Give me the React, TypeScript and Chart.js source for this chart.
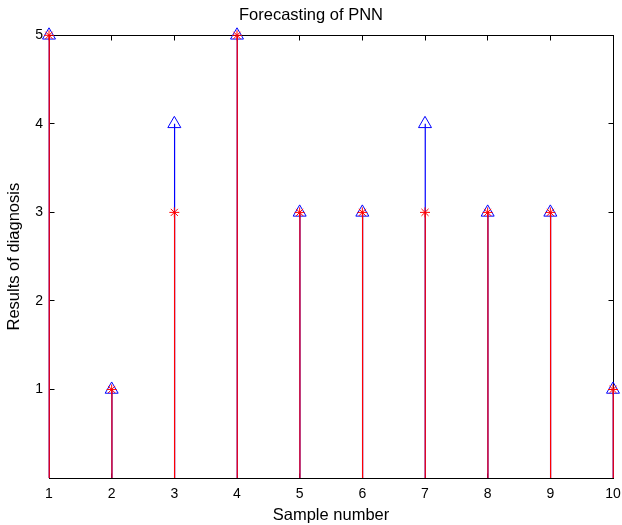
import React, { useEffect, useRef } from 'react';
import { Chart, registerables } from 'chart.js';

Chart.register(...registerables);

const sampleNumbers = [1, 2, 3, 4, 5, 6, 7, 8, 9, 10];
const expectedValues = [5, 1, 4, 5, 3, 3, 4, 3, 3, 1];
const pnnValues = [5, 1, 3, 5, 3, 3, 3, 3, 3, 1];
const xTickValues = [1, 2, 3, 4, 5, 6, 7, 8, 9, 10];
const yTickValues = [0, 1, 2, 3, 4, 5];

const FONT = "'Liberation Sans', Arial, sans-serif";

const stemPlugin = {
  id: 'stems',
  beforeDatasetDraw(chart: any, args: any) {
    const ds = chart.data.datasets[args.index];
    const ctx = chart.ctx;
    const base = chart.scales.y.getPixelForValue(0);
    ctx.save();
    ctx.strokeStyle = ds.borderColor;
    ctx.lineWidth = 1.2;
    args.meta.data.forEach((pt: any) => {
      const x = pt.x + 0.25;
      ctx.beginPath();
      ctx.moveTo(x, base);
      ctx.lineTo(x, pt.y);
      ctx.stroke();
    });
    ctx.restore();
  },
};

const boxPlugin = {
  id: 'box',
  beforeDatasetsDraw(chart: any) {
    const { ctx, chartArea, scales } = chart;
    const l = Math.floor(chartArea.left) + 0.5;
    const r = Math.floor(chartArea.right) + 0.5;
    const t = Math.floor(chartArea.top) + 0.5;
    const b = Math.floor(chartArea.bottom) + 0.5;
    ctx.save();
    ctx.strokeStyle = '#000';
    ctx.lineWidth = 1;
    ctx.strokeRect(l, t, r - l, b - t);
    const len = 5;
    ctx.beginPath();
    xTickValues.forEach((v) => {
      const x = Math.floor(scales.x.getPixelForValue(v)) + 0.5;
      ctx.moveTo(x, b);
      ctx.lineTo(x, b - len);
      ctx.moveTo(x, t);
      ctx.lineTo(x, t + len);
    });
    yTickValues.forEach((v) => {
      const y = Math.floor(scales.y.getPixelForValue(v)) + 0.5;
      ctx.moveTo(l, y);
      ctx.lineTo(l + len, y);
      ctx.moveTo(r, y);
      ctx.lineTo(r - len, y);
    });
    ctx.stroke();
    ctx.restore();
  },
};

export default function App() {
  const canvasRef = useRef<HTMLCanvasElement | null>(null);

  useEffect(() => {
    if (!canvasRef.current) return;
    Chart.defaults.font.family = FONT;
    Chart.defaults.color = '#000';
    const chart = new Chart(canvasRef.current, {
      type: 'line',
      data: {
        datasets: [
          {
            label: 'PNN output',
            data: sampleNumbers.map((x, i) => ({ x, y: pnnValues[i] })),
            showLine: false,
            borderColor: '#ff0000',
            backgroundColor: '#ff0000',
            pointStyle: 'star',
            pointRadius: 5,
            pointBorderWidth: 1,
            pointBorderColor: '#ff0000',
            clip: false as any,
          },
          {
            label: 'Expected',
            data: sampleNumbers.map((x, i) => ({ x, y: expectedValues[i] })),
            showLine: false,
            borderColor: '#0000ff',
            backgroundColor: 'rgba(0,0,0,0)',
            pointStyle: 'triangle',
            pointRadius: 7.5,
            pointBorderWidth: 1,
            pointBorderColor: '#0000ff',
            pointBackgroundColor: 'rgba(0,0,0,0)',
            clip: false as any,
          },
        ],
      },
      options: {
        animation: false,
        responsive: true,
        maintainAspectRatio: false,
        events: [],
        layout: { padding: { left: 0, right: 0, top: 0, bottom: 0 } },
        plugins: {
          legend: { display: false },
          tooltip: { enabled: false },
          title: {
            display: true,
            text: 'Forecasting of PNN',
            color: '#000',
            font: { size: 16.5, weight: 'normal', family: FONT },
            padding: { top: 6, bottom: 9.5 },
          },
        },
        scales: {
          x: {
            type: 'linear',
            min: 1,
            max: 10,
            afterBuildTicks: (s: any) => {
              s.ticks = xTickValues.map((v) => ({ value: v }));
            },
            afterFit: (s: any) => {
              s.height = 47;
              s.paddingRight = 9;
              s.paddingLeft = 0;
            },
            grid: { display: false, drawTicks: false },
            border: { display: false },
            ticks: { color: '#000', font: { size: 14 }, padding: 8, maxRotation: 0 },
            title: {
              display: true,
              text: 'Sample number',
              color: '#000',
              font: { size: 16.5 },
              padding: { top: 0, bottom: 0 },
            },
          },
          y: {
            type: 'linear',
            min: 0,
            max: 5,
            afterBuildTicks: (s: any) => {
              s.ticks = yTickValues.map((v) => ({ value: v }));
            },
            afterFit: (s: any) => {
              s.width = 49;
            },
            grid: { display: false, drawTicks: false },
            border: { display: false },
            ticks: {
              color: '#000',
              font: { size: 14 },
              padding: 6,
              callback: (v: any) => (v === 0 ? '' : String(v)),
            },
            title: {
              display: true,
              text: 'Results of diagnosis',
              color: '#000',
              font: { size: 16.5 },
              padding: { top: 5, bottom: 0 },
            },
          },
        },
      } as any,
      plugins: [boxPlugin, stemPlugin],
    });
    return () => chart.destroy();
  }, []);

  return (
    <div style={{ position: 'absolute', left: 0, top: 0, width: 622, height: 525, background: '#fff' }}>
      <canvas ref={canvasRef} />
    </div>
  );
}
